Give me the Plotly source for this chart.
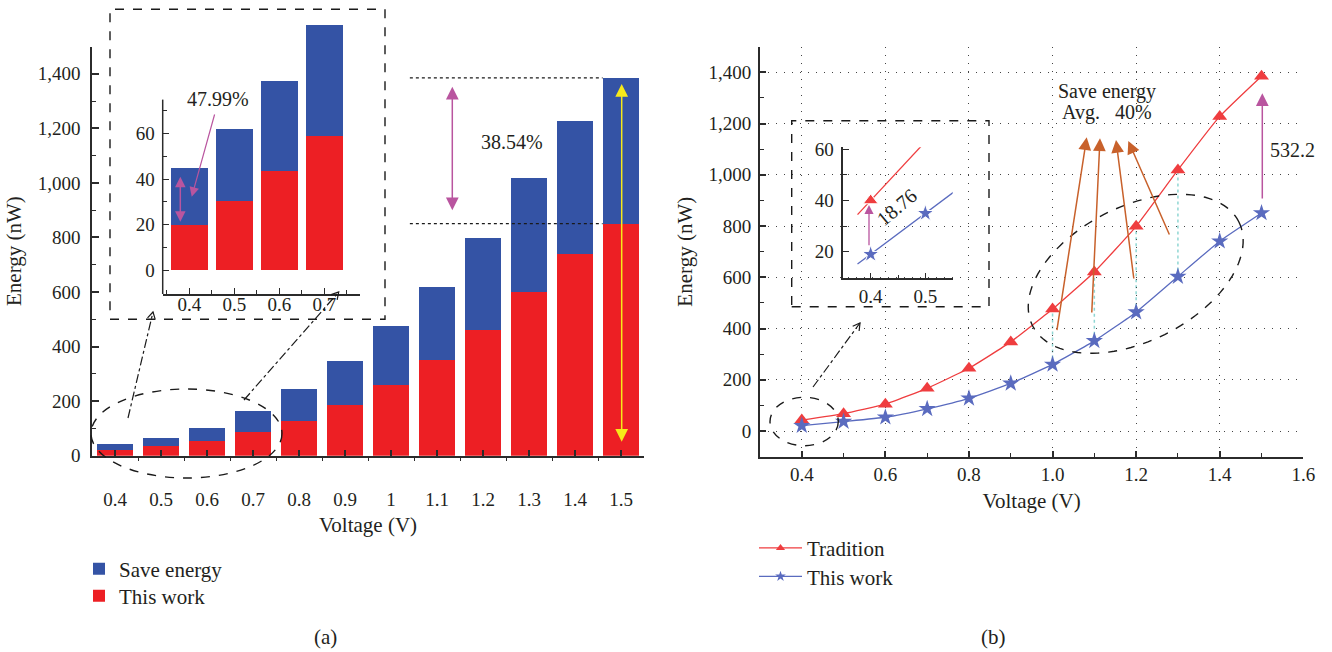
import numpy as np
import plotly.graph_objects as go

W, H = 1332, 652
FONT = "Liberation Serif, Times New Roman, serif"
TXT = "#231f20"

# ---------------- data ----------------
voltage = [0.4, 0.5, 0.6, 0.7, 0.8, 0.9, 1.0, 1.1, 1.2, 1.3, 1.4, 1.5]
voltage_labels_a = ["0.4", "0.5", "0.6", "0.7", "0.8", "0.9", "1", "1.1", "1.2", "1.3", "1.4", "1.5"]
tradition = [43, 68, 105, 167, 245, 348, 476, 621, 799, 1019, 1228, 1385]
this_work = [21, 37, 54, 87, 128, 186, 260, 352, 464, 603, 741, 851]
save_energy = [t - w for t, w in zip(tradition, this_work)]

inset_a_voltage = [0.4, 0.5, 0.6, 0.7]
inset_a_tradition = [45, 62, 83, 108]
inset_a_this_work = [20, 30.5, 43.5, 59]
inset_a_save = [t - w for t, w in zip(inset_a_tradition, inset_a_this_work)]

inset_b_voltage = [0.4, 0.5]
inset_b_tradition = [40, 63]
inset_b_this_work = [19, 35]

BLUE_BAR = "#3453a5"
RED_BAR = "#ed1f24"
RED_LINE = "#ef3d3f"
BLUE_LINE = "#5a6bbf"
PINK = "#b9559f"
ORANGE = "#c8612b"
YELLOW = "#f6e919"
CYAN = "#8fd6d3"


def px(x):
    return x / W


def py(y):
    return 1 - y / H


fig = go.Figure()

# ---------------- panel (a) main bars ----------------
fig.add_trace(go.Bar(x=voltage, y=this_work, name="This work", marker=dict(color=RED_BAR, line=dict(width=0)),
                     width=0.08, xaxis="x", yaxis="y", legend="legend3"))
fig.add_trace(go.Bar(x=voltage, y=save_energy, name="Save energy", marker=dict(color=BLUE_BAR, line=dict(width=0)),
                     width=0.08, xaxis="x", yaxis="y", legend="legend"))
# ---------------- panel (a) inset bars ----------------
fig.add_trace(go.Bar(x=inset_a_voltage, y=inset_a_this_work, marker=dict(color=RED_BAR, line=dict(width=0)),
                     width=0.082, xaxis="x2", yaxis="y2", showlegend=False))
fig.add_trace(go.Bar(x=inset_a_voltage, y=inset_a_save, marker=dict(color=BLUE_BAR, line=dict(width=0)),
                     width=0.082, xaxis="x2", yaxis="y2", showlegend=False))

# ---------------- panel (b) lines ----------------
fig.add_trace(go.Scatter(x=voltage, y=tradition, name="Tradition", mode="lines+markers",
                         line=dict(color=RED_LINE, width=1.3, shape="spline", smoothing=0.4),
                         marker=dict(symbol="triangle-up", size=13, color=RED_LINE),
                         xaxis="x3", yaxis="y3", showlegend=False))
fig.add_trace(go.Scatter(x=voltage, y=this_work, name="This work", mode="lines+markers",
                         line=dict(color=BLUE_LINE, width=1.3, shape="spline", smoothing=0.4),
                         marker=dict(symbol="star", size=13, color=BLUE_LINE),
                         xaxis="x3", yaxis="y3", showlegend=False))
# legend entries for (b) with small symbols
fig.add_trace(go.Scatter(x=[None], y=[None], name="Tradition", mode="lines+markers",
                         line=dict(color=RED_LINE, width=1.3), marker=dict(symbol="triangle-up", size=8, color=RED_LINE),
                         xaxis="x3", yaxis="y3", legend="legend2"))
fig.add_trace(go.Scatter(x=[None], y=[None], name="This work", mode="lines+markers",
                         line=dict(color=BLUE_LINE, width=1.3), marker=dict(symbol="star", size=8, color=BLUE_LINE),
                         xaxis="x3", yaxis="y3", legend="legend4"))


# inset (b): segments through the two points, slightly extended
def extend(xs, ys, lo, hi):
    slope = (ys[1] - ys[0]) / (xs[1] - xs[0])
    xe = [xs[0] - lo, xs[0], xs[1], xs[1] + hi]
    ye = [ys[0] - slope * lo, ys[0], ys[1], ys[1] + slope * hi]
    return xe, ye


xr, yr = extend(inset_b_voltage, inset_b_tradition, 0.024, 0.014)
xb, yb = extend(inset_b_voltage, inset_b_this_work, 0.024, 0.06)
fig.add_trace(go.Scatter(x=xr, y=yr, mode="lines+markers", line=dict(color=RED_LINE, width=1.3),
                         marker=dict(symbol="triangle-up", size=[0, 13, 13, 0], color=RED_LINE, opacity=1),
                         xaxis="x4", yaxis="y4", showlegend=False))
fig.add_trace(go.Scatter(x=xb, y=yb, mode="lines+markers", line=dict(color=BLUE_LINE, width=1.3),
                         marker=dict(symbol="star", size=[0, 13, 13, 0], color=BLUE_LINE, opacity=1),
                         xaxis="x4", yaxis="y4", showlegend=False))

tickfont = dict(family=FONT, size=19, color=TXT)
titlefont = dict(family=FONT, size=21, color=TXT)
legfont = dict(family=FONT, size=21, color=TXT)
AX = "#2b2b2b"


def leg(x, y, iw=30):
    return dict(x=px(x), y=py(y), xanchor="left", yanchor="middle", bgcolor="rgba(0,0,0,0)",
                font=legfont, itemwidth=iw, borderwidth=0)


layout = dict(
    width=W, height=H,
    margin=dict(l=0, r=0, t=0, b=0, autoexpand=False),
    paper_bgcolor="white", plot_bgcolor="rgba(0,0,0,0)",
    barmode="stack", bargap=0,
    font=dict(family=FONT, color=TXT),
    showlegend=True,
    xaxis=dict(domain=[px(92), px(644)], range=[0.35, 1.55], anchor="y", automargin=False,
               tickmode="array", tickvals=voltage, ticktext=voltage_labels_a,
               ticks="inside", ticklen=6, tickwidth=1.5, tickcolor=AX,
               minor=dict(tickmode="array", tickvals=[round(v - 0.05, 2) for v in voltage] + [1.55],
                          ticks="outside", ticklen=4, tickwidth=1.2, tickcolor=AX),
               showline=True, linecolor=AX, linewidth=1.5, showgrid=False, zeroline=False,
               tickfont=tickfont, ticklabelstandoff=26,
               title=dict(text="Voltage (V)", font=titlefont, standoff=8)),
    yaxis=dict(domain=[py(455.7), py(46.5)], range=[0, 1500], anchor="x", automargin=False,
               tick0=0, dtick=200, tickformat=",d",
               ticks="inside", ticklen=7, tickwidth=1.5, tickcolor=AX,
               minor=dict(dtick=100, ticks="inside", ticklen=4, tickwidth=1.2, tickcolor=AX),
               showline=True, linecolor=AX, linewidth=1.5, showgrid=False, zeroline=False,
               tickfont=tickfont, ticklabelstandoff=6,
               title=dict(text="Energy (nW)", font=titlefont, standoff=10)),
    xaxis2=dict(domain=[px(162.7), px(360)], range=[0.341, 0.779], anchor="y2", automargin=False,
                tickmode="array", tickvals=inset_a_voltage, ticktext=["0.4", "0.5", "0.6", "0.7"],
                ticks="inside", ticklen=6, tickwidth=1.2, tickcolor=AX,
                minor=dict(tickmode="array", tickvals=[0.35, 0.45, 0.55, 0.65, 0.75],
                           ticks="inside", ticklen=4, tickwidth=1.2, tickcolor=AX),
                showline=True, linecolor=AX, linewidth=1.5, showgrid=False, zeroline=False,
                tickfont=tickfont, ticklabelstandoff=-8),
    yaxis2=dict(domain=[py(294), py(20)], range=[-10.56, 110.04], anchor="x2", automargin=False,
                tickmode="array", tickvals=[0, 20, 40, 60],
                ticks="inside", ticklen=6, tickwidth=1.2, tickcolor=AX,
                minor=dict(tickmode="array", tickvals=[10, 30, 50, 70],
                           ticks="inside", ticklen=4, tickwidth=1.2, tickcolor=AX),
                showline=False, showgrid=False, zeroline=False,
                tickfont=tickfont, ticklabelstandoff=7),
    xaxis3=dict(domain=[px(760), px(1303.3)], range=[0.3, 1.6], anchor="y3", automargin=False,
                tick0=0, dtick=0.2, tickformat=".1f",
                ticks="inside", ticklen=6, tickwidth=1.5, tickcolor=AX,
                minor=dict(dtick=0.1, ticks="inside", ticklen=4, tickwidth=1.2, tickcolor=AX),
                showline=True, linecolor=AX, linewidth=2, zeroline=False,
                showgrid=True, gridcolor="#444", gridwidth=1, griddash="1px,7px",
                tickfont=tickfont, ticklabelstandoff=-1,
                title=dict(text="Voltage (V)", font=titlefont, standoff=10)),
    yaxis3=dict(domain=[py(456.7), py(46.7)], range=[-100, 1500], anchor="x3", automargin=False,
                tick0=0, dtick=200, tickformat=",d",
                ticks="inside", ticklen=6, tickwidth=1.5, tickcolor=AX,
                minor=dict(dtick=100, ticks="inside", ticklen=4, tickwidth=1.2, tickcolor=AX),
                showline=True, linecolor=AX, linewidth=2, zeroline=False,
                showgrid=True, gridcolor="#444", gridwidth=1, griddash="1px,7px",
                tickfont=tickfont, ticklabelstandoff=3,
                title=dict(text="Energy (nW)", font=titlefont, standoff=10)),
    xaxis4=dict(domain=[px(843.3), px(952.7)], range=[0.35, 0.55], anchor="y4", automargin=False,
                tickmode="array", tickvals=inset_b_voltage, ticktext=["0.4", "0.5"],
                ticks="inside", ticklen=6, tickwidth=1.2, tickcolor=AX,
                minor=dict(tickmode="array", tickvals=[0.45, 0.55], ticks="inside", ticklen=4,
                           tickwidth=1.2, tickcolor=AX),
                showline=True, linecolor=AX, linewidth=1.5, showgrid=False, zeroline=False,
                tickfont=tickfont, ticklabelstandoff=0),
    yaxis4=dict(domain=[py(278.3), py(147.3)], range=[9.6, 60.8], anchor="x4", automargin=False,
                tickmode="array", tickvals=[20, 40, 60],
                ticks="inside", ticklen=6, tickwidth=1.2, tickcolor=AX,
                minor=dict(tickmode="array", tickvals=[30, 50], ticks="inside", ticklen=4,
                           tickwidth=1.2, tickcolor=AX),
                showline=True, linecolor=AX, linewidth=1.5, showgrid=False, zeroline=False,
                tickfont=tickfont, ticklabelstandoff=4),
    legend=leg(79, 569),
    legend3=leg(79, 596),
    legend2=leg(754, 548.3, 43),
    legend4=leg(754, 576.7, 43),
)
fig.update_layout(**layout)

# ---------------- decorations ----------------
shapes = []
annotations = []


def rect(x0, y0, x1, y1, dash="dash"):
    shapes.append(dict(type="rect", xref="paper", yref="paper", x0=px(x0), x1=px(x1), y0=py(y1), y1=py(y0),
                       line=dict(color="#1a1a1a", width=1.4, dash=dash)))


def ellipse(x0, y0, x1, y1):
    shapes.append(dict(type="circle", xref="paper", yref="paper", x0=px(x0), x1=px(x1), y0=py(y1), y1=py(y0),
                       line=dict(color="#1a1a1a", width=1.4, dash="dash")))


def rot_ellipse(cx, cy, a, b, deg):
    t = np.linspace(0, 2 * np.pi, 120)
    th = np.radians(deg)
    xs = cx + a * np.cos(t) * np.cos(th) + b * np.sin(t) * np.sin(th)
    ys = cy - a * np.cos(t) * np.sin(th) + b * np.sin(t) * np.cos(th)
    path = "M " + " L ".join(f"{px(x):.5f},{py(y):.5f}" for x, y in zip(xs, ys)) + " Z"
    shapes.append(dict(type="path", xref="paper", yref="paper", path=path,
                       line=dict(color="#1a1a1a", width=1.4, dash="dash")))


def dashdot_arrow(tail, tip, L=8, ang=30):
    shapes.append(dict(type="line", xref="paper", yref="paper", x0=px(tail[0]), y0=py(tail[1]),
                       x1=px(tip[0]), y1=py(tip[1]), line=dict(color="#1a1a1a", width=1.2, dash="dashdot")))
    ux, uy = tail[0] - tip[0], tail[1] - tip[1]
    n = np.hypot(ux, uy)
    ux, uy = ux / n, uy / n
    pts = []
    for s in (1, -1):
        c, si = np.cos(np.radians(ang * s)), np.sin(np.radians(ang * s))
        pts.append((tip[0] + L * (ux * c - uy * si), tip[1] + L * (ux * si + uy * c)))
    path = (f"M {px(pts[0][0]):.5f},{py(pts[0][1]):.5f} L {px(tip[0]):.5f},{py(tip[1]):.5f} "
            f"L {px(pts[1][0]):.5f},{py(pts[1][1]):.5f}")
    shapes.append(dict(type="path", xref="paper", yref="paper", path=path,
                       line=dict(color="#1a1a1a", width=1.2)))


def arrow(tip, tail, color, width=1.5, size=1.7, head=2, both=False):
    annotations.append(dict(x=px(tip[0]), y=py(tip[1]), xref="paper", yref="paper",
                            ax=tail[0] - tip[0], ay=tail[1] - tip[1], axref="pixel", ayref="pixel",
                            showarrow=True, arrowhead=head, startarrowhead=head, arrowsize=size,
                            startarrowsize=size, arrowwidth=width, arrowcolor=color, text="",
                            arrowside="end+start" if both else "end", standoff=0, startstandoff=0))


def label(x, y, text, size=20, angle=0):
    annotations.append(dict(x=px(x), y=py(y), xref="paper", yref="paper", text=text, showarrow=False,
                            xanchor="center", yanchor="middle", textangle=angle,
                            font=dict(family=FONT, size=size, color=TXT)))


# panel (a)
rect(110, 9.3, 385, 319.3)
ellipse(91, 389, 282, 478)
dashdot_arrow((128, 418), (153, 312))
dashdot_arrow((244, 400), (338.7, 292))
for yv in (tradition[-1], this_work[-1]):
    shapes.append(dict(type="line", xref="x", yref="y", x0=1.041, x1=voltage[-1] - 0.04, y0=yv, y1=yv,
                       line=dict(color="#1a1a1a", width=1.2, dash="dot")))
# inset (a) y axis line, only up to 75
shapes.append(dict(type="line", xref="x2 domain", yref="y2", x0=0, x1=0, y0=-10.56, y1=75,
                   line=dict(color=AX, width=1.5)))
label(218, 99, "47.99%")
arrow((191.7, 196.7), (215, 113), PINK, width=1.2, size=1.6)
arrow((180.3, 176.7), (180.3, 223.3), PINK, width=1.5, size=1.4, both=True)
label(511.7, 141.7, "38.54%")
arrow((452.3, 86.7), (452.3, 211.7), PINK, width=1.5, size=1.7, both=True)
arrow((621.7, 84), (621.7, 443.3), YELLOW, width=1.5, size=1.7, both=True)
label(325, 637, "(a)", size=21)

# panel (b)
rect(791.7, 120.7, 989, 306.7)
ellipse(770, 397.3, 838.3, 445.7)
rot_ellipse(1135.7, 273.8, 115.5, 67.3, 26.8)
dashdot_arrow((813, 387), (860, 323))
for i, v in enumerate(voltage):
    if 1.0 <= v <= 1.3:
        shapes.append(dict(type="line", xref="x3", yref="y3", x0=v, x1=v, y0=this_work[i], y1=tradition[i],
                           line=dict(color=CYAN, width=1.5, dash="dot"), layer="below"))
label(1106.7, 91.7, "Save energy")
label(1106.7, 112.7, "Avg.\u00a0\u00a0 40%")
arrow((1086.7, 137.3), (1056.7, 331.7), ORANGE, width=1.5, size=1.7)
arrow((1100, 138.3), (1091.7, 314), ORANGE, width=1.5, size=1.7)
arrow((1116, 140), (1134, 280), ORANGE, width=1.5, size=1.7)
arrow((1128.3, 141), (1170, 236), ORANGE, width=1.5, size=1.7)
arrow((1262.3, 93.3), (1262.3, 200), PINK, width=1.5, size=1.7)
label(1292.7, 150, "532.2")
label(896.7, 206.7, "18.76", angle=-40)
arrow((869, 205), (869, 246.7), PINK, width=1.3, size=1.4)
label(993.3, 637, "(b)", size=21)

fig.update_layout(shapes=shapes, annotations=annotations)

fig.write_html("out.html")
